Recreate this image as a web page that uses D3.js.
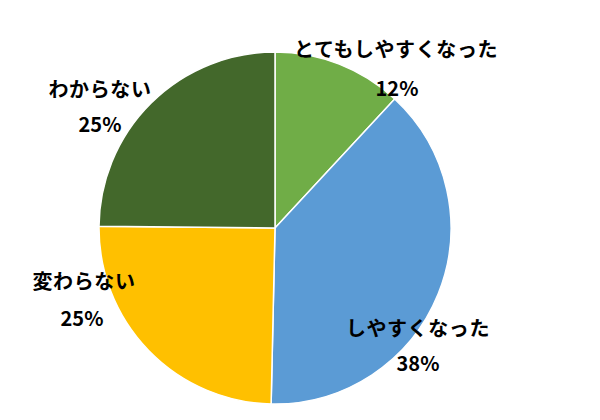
<!DOCTYPE html>
<html>
<head>
<meta charset="utf-8">
<script src="https://cdn.jsdelivr.net/npm/d3@7"></script>
<style>
  body { margin: 0; background: #fff; }
  svg text { font-family: "Noto Sans CJK JP", "Noto Sans", sans-serif; font-weight: bold; fill: #000; }
</style>
</head>
<body>
<div id="chart"></div>
<script>
// chart values
var categories = ['とてもしやすくなった', 'しやすくなった', '変わらない', 'わからない']
var values = [11.9, 38.45, 24.8, 24.85]
var colors = ['#70AD47', '#5B9BD5', '#FFC000', '#43682B']

// label centres relative to the pie centre (name line, percent line)
var labelSpots = [
    { nx: 121, ny: -180, px: 122, py: -141 },
    { nx: 143, ny: 99, px: 143, py: 134 },
    { nx: -191, ny: 52, px: -193, py: 89 },
    { nx: -175, ny: -140, px: -175, py: -105 }
]

var width = 600, height = 420
var cx = 275, cy = 228, radius = 176

var svg = d3.select('#chart')
    .append('svg')
    .attr('width', width)
    .attr('height', height)

var g = svg.append('g')
    .attr('transform', 'translate(' + cx + ',' + cy + ')')

var pie = d3.pie().sort(null).value(function (d) { return d })
var arc = d3.arc().innerRadius(0).outerRadius(radius)

var arcs = pie(values)

g.selectAll('path')
    .data(arcs)
    .enter()
    .append('path')
    .attr('d', arc)
    .attr('fill', function (d, i) { return colors[i] })
    .style('stroke', 'white')
    .style('stroke-width', 1.5)

// labels
var labels = g.selectAll('g.lbl')
    .data(arcs)
    .enter()
    .append('g')
    .attr('class', 'lbl')

labels.append('text')
    .attr('x', function (d, i) { return labelSpots[i].nx })
    .attr('y', function (d, i) { return labelSpots[i].ny })
    .attr('text-anchor', 'middle')
    .attr('dominant-baseline', 'central')
    .style('font-size', '20px')
    .style('letter-spacing', '0.6px')
    .text(function (d, i) { return categories[i] })

labels.append('text')
    .attr('x', function (d, i) { return labelSpots[i].px })
    .attr('y', function (d, i) { return labelSpots[i].py })
    .attr('text-anchor', 'middle')
    .attr('dominant-baseline', 'central')
    .style('font-size', '20px')
    .text(function (d) { return Math.round(d.value) + '%' })
</script>
</body>
</html>
